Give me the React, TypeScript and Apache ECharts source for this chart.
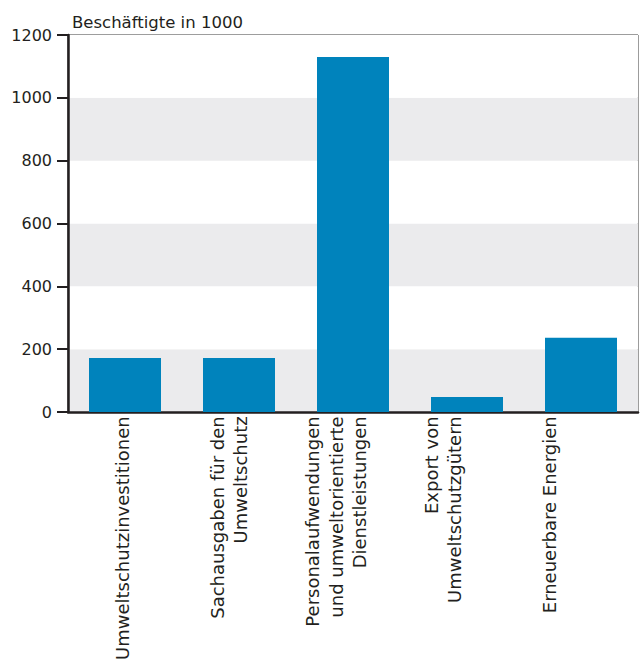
import React, { useEffect, useRef } from "react";
import * as echarts from "echarts";

const categories = [
  "Umweltschutzinvestitionen",
  "Sachausgaben für den\nUmweltschutz",
  "Personalaufwendungen\nund umweltorientierte\nDienstleistungen",
  "Export von\nUmweltschutzgütern",
  "Erneuerbare Energien",
];
const values = [172, 172, 1130, 48, 236];
const yTitle = "Beschäftigte in 1000";
const yMin = 0;
const yMax = 1200;
const yStep = 200;

const TEXT = "#231f20";
const FONT = "DejaVu Sans";

export default function App() {
  const ref = useRef<HTMLDivElement>(null);
  useEffect(() => {
    if (!ref.current) return;
    const chart = echarts.init(ref.current, undefined, { renderer: "svg" });
    chart.setOption({
      animation: false,
      backgroundColor: "#ffffff",
      title: {
        text: yTitle,
        left: 67,
        top: 9,
        textStyle: { fontFamily: FONT, fontSize: 16.5, fontWeight: "normal", color: TEXT },
      },
      grid: [
        {
          left: 68,
          right: 4,
          top: 35,
          bottom: 251,
          show: true,
          borderColor: "#3a3a3a",
          borderWidth: 1,
          backgroundColor: "transparent",
        },
        { left: 69, right: 39, top: 35, bottom: 251, show: false },
      ],
      xAxis: [
        {
          type: "category",
          gridIndex: 0,
          data: categories,
          axisLine: { show: true, lineStyle: { color: TEXT, width: 2.5 } },
          axisTick: { show: false },
          axisLabel: { show: false },
          splitLine: { show: false },
        },
        {
          type: "category",
          gridIndex: 1,
          data: categories,
          axisLine: { show: false },
          axisTick: { show: false },
          axisLabel: {
            interval: 0,
            rotate: 90,
            margin: 15,
            fontFamily: FONT,
            fontSize: 18,
            lineHeight: 23.5,
            color: TEXT,
          },
          splitLine: { show: false },
        },
      ],
      yAxis: [
        {
          type: "value",
          gridIndex: 0,
          min: yMin,
          max: yMax,
          interval: yStep,
          axisLine: { show: true, lineStyle: { color: TEXT, width: 2.5 } },
          axisTick: { show: true, length: 11, lineStyle: { color: TEXT, width: 2 } },
          axisLabel: {
            margin: 16,
            fontFamily: FONT,
            fontSize: 16,
            color: TEXT,
            formatter: (v: number) => String(v),
          },
          splitLine: { show: false },
          splitArea: { show: true, areaStyle: { color: ["#EBEBED", "#ffffff"] } },
        },
        { type: "value", gridIndex: 1, min: yMin, max: yMax, show: false },
      ],
      series: [
        {
          type: "bar",
          xAxisIndex: 0,
          yAxisIndex: 0,
          data: values,
          barWidth: 72,
          itemStyle: { color: "#0083BC" },
        },
      ],
    });
    return () => chart.dispose();
  }, []);
  return (
    <div
      ref={ref}
      style={{ position: "absolute", left: 0, top: 0, width: 642, height: 663 }}
    />
  );
}
